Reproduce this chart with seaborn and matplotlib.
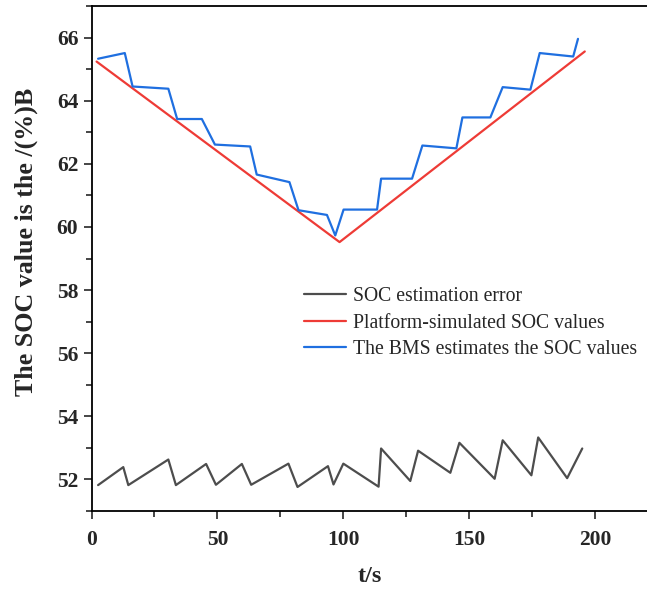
import numpy as np
import pandas as pd
import matplotlib
matplotlib.use("Agg")
import matplotlib.pyplot as plt
import seaborn as sns
from matplotlib.ticker import MultipleLocator

sns.set_style("ticks")
plt.rcParams['font.family'] = ['Liberation Serif', 'DejaVu Serif']

#----------------------------------
# Data
#----------------------------------
t_err = [2.6, 12.6, 14.6, 30.5, 33.5, 45.5, 49.4, 59.7, 63.4, 78.2, 81.8,
         93.9, 96.1, 100.0, 114.0, 115.0, 126.6, 129.7, 142.5, 146.1, 160.1,
         163.3, 174.7, 177.4, 188.9, 194.9]
soc_err = [51.82, 52.39, 51.82, 52.63, 51.82, 52.49, 51.83, 52.49, 51.83, 52.50,
           51.76, 52.42, 51.84, 52.50, 51.77, 52.98, 51.95, 52.91, 52.21, 53.16,
           52.02, 53.24, 52.13, 53.33, 52.04, 52.98]

t_sim = [2.0, 98.5, 195.9]
soc_sim = [65.24, 59.52, 65.56]

t_bms = [2.6, 13.2, 16.3, 30.5, 34.0, 43.8, 49.0, 63.0, 65.6, 78.6, 82.2,
         93.5, 96.8, 100.1, 113.4, 115.0, 127.3, 131.4, 144.9, 147.3, 158.4,
         163.3, 174.3, 178.0, 191.3, 193.2]
soc_bms = [65.33, 65.51, 64.45, 64.38, 63.42, 63.42, 62.61, 62.55, 61.66, 61.42,
           60.53, 60.38, 59.73, 60.55, 60.55, 61.53, 61.53, 62.58, 62.49, 63.47,
           63.47, 64.43, 64.35, 65.51, 65.40, 65.96]

df_err = pd.DataFrame({'t': t_err, 'soc': soc_err})
df_sim = pd.DataFrame({'t': t_sim, 'soc': soc_sim})
df_bms = pd.DataFrame({'t': t_bms, 'soc': soc_bms})

#----------------------------------
# Plot
#----------------------------------
fig = plt.figure(figsize=(6.47, 5.91), dpi=100)
ax = fig.add_axes([0.1415, 0.1354, 0.86, 0.8544])

sns.lineplot(x='t', y='soc', data=df_err, color='#4d4d4d', lw=1.6,
             label='SOC estimation error', ax=ax, sort=False)
sns.lineplot(x='t', y='soc', data=df_sim, color='#ee3b36', lw=1.6,
             label='Platform-simulated SOC values', ax=ax, sort=False)
sns.lineplot(x='t', y='soc', data=df_bms, color='#1f6fe0', lw=1.6,
             label='The BMS estimates the SOC values', ax=ax, sort=False)

ax.set_xlim(0, 221)
ax.set_ylim(51, 67)
ax.xaxis.set_major_locator(MultipleLocator(50))
ax.xaxis.set_minor_locator(MultipleLocator(25))
ax.yaxis.set_major_locator(MultipleLocator(2))
ax.yaxis.set_minor_locator(MultipleLocator(1))
ax.tick_params(which='major', direction='out', length=6, width=1.2,
               labelsize=15.5)
ax.tick_params(axis='x', which='major', pad=8)
ax.tick_params(which='minor', direction='out', length=4, width=1.2)
for lab in ax.get_xticklabels() + ax.get_yticklabels():
    lab.set_fontweight('bold')

for side in ['left', 'bottom', 'top']:
    ax.spines[side].set_linewidth(1.3)
    ax.spines[side].set_color('black')
ax.spines['right'].set_visible(False)

ax.set_xlabel('t/s', fontsize=17.5, fontweight='bold')
ax.xaxis.set_label_coords(0.5, -0.108)
ax.set_ylabel('The SOC value is the /(%)B', fontsize=18.7, fontweight='bold')
ax.yaxis.set_label_coords(-0.096, 0.533)

ax.legend(loc='upper left', bbox_to_anchor=(0.367, 0.459), frameon=False,
          fontsize=14.2, handlelength=2.15, handletextpad=0.36,
          labelspacing=0.38, borderaxespad=0)

fig.savefig('out.png', dpi=100)
